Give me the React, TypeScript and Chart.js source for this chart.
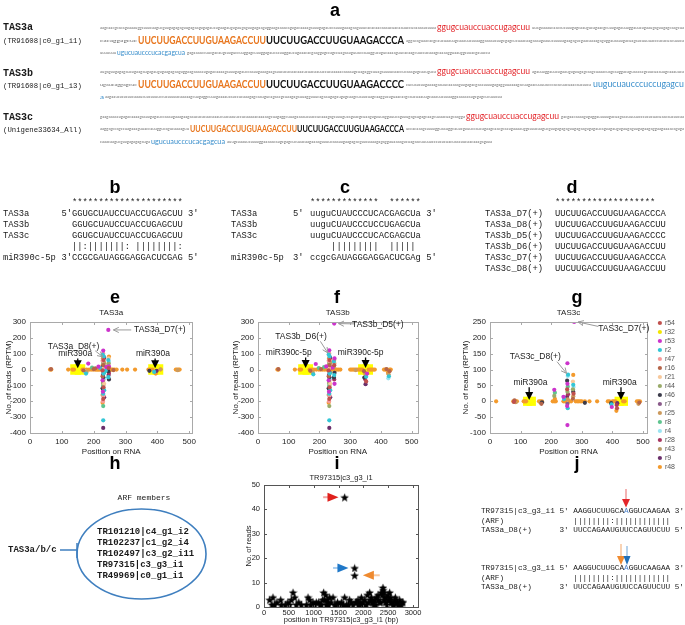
import React, { useEffect, useRef } from 'react';
import { Chart, registerables } from 'chart.js';
Chart.register(...registerables);

const SANS = "'Liberation Sans', Arial, Helvetica, sans-serif";
const MONO = "'Liberation Mono', 'Courier New', monospace";
const SEQF = "Lato, 'Open Sans', 'Liberation Sans', sans-serif";

// ---------- series (legend of panel g) ----------
const SERIES = ['r54', 'r32', 'r53', 'r2', 'r47', 'r16', 'r21', 'r44', 'r46', 'r7', 'r25', 'r8', 'r4', 'r28', 'r43', 'r9', 'r48'];
const SERIES_COLORS = ['#c0504d', '#f2e600', '#cc33cc', '#33c6d6', '#f59a9a', '#b5654a', '#f7c89b', '#9aab6a', '#3b3b4a', '#8a5a8a', '#cc9a5c', '#5fc48f', '#9be4f2', '#a8365f', '#b89c6a', '#6b2f6b', '#f39a2c'];

// ---------- panel e : TAS3a ----------
const E_X_TICKS = [0, 100, 200, 300, 400, 500];
const E_Y_TICKS = [-400, -300, -200, -100, 0, 100, 200, 300];
const E_BASE_X = [63, 67, 120, 133, 138, 165, 170, 178, 186, 192, 198, 204, 208, 212, 216, 220, 224, 228, 234, 236, 240, 244, 252, 256, 260, 265, 272, 290, 305, 330, 372, 378, 385, 410, 458, 462, 466, 470];
const E_MIR_X = [143, 157, 388, 402];
const E_POINTS: [number, number, string][] = [
  [66, 3, 'r16'], [200, 3, 'r16'], [262, -3, 'r16'], [464, -4, 'r25'], [410, 2, 'r25'],
  [183, 38, 'r53'], [176, -25, 'r2'], [178, -14, 'r25'], [195, 12, 'r8'], [205, 8, 'r16'], [215, 18, 'r53'], [220, 10, 'r2'], [168, -6, 'r16'], [172, -12, 'r4'],
  [230, 120, 'r53'], [230, 100, 'r47'], [232, 82, 'r2'], [229, 70, 'r25'], [231, 60, 'r54'], [230, 48, 'r8'], [230, 38, 'r44'], [231, 28, 'r16'], [229, 18, 'r46'], [230, 8, 'r21'],
  [230, -15, 'r7'], [231, -25, 'r2'], [229, -35, 'r9'], [230, -48, 'r46'], [231, -60, 'r43'], [230, -72, 'r25'], [229, -85, 'r44'], [230, -100, 'r8'], [231, -112, 'r54'], [230, -125, 'r28'],
  [229, -140, 'r53'], [230, -152, 'r2'], [231, -165, 'r47'], [230, -185, 'r54'], [229, -200, 'r47'], [230, -230, 'r8'], [230, -320, 'r2'], [230, -368, 'r9'],
  [228, 95, 'r2'], [233, 75, 'r9'], [228, 55, 'r47'], [233, 42, 'r25'], [228, 25, 'r48'], [233, 12, 'r28'], [228, -5, 'r54'], [233, -20, 'r8'], [228, -42, 'r16'], [233, -55, 'r4'],
  [228, -68, 'r53'], [233, -90, 'r21'], [228, -118, 'r46'], [233, -130, 'r2'], [228, -160, 'r25'], [233, -175, 'r9'], [228, -210, 'r48'],
  [246, 250, 'r53'],
  [248, 82, 'r48'], [247, 70, 'r21'], [246, 60, 'r2'], [248, 50, 'r4'], [247, 40, 'r44'], [246, 30, 'r25'], [248, 20, 'r53'], [247, 10, 'r54'], [246, -10, 'r46'], [248, -22, 'r28'], [247, -35, 'r9'], [246, -48, 'r2'], [248, -62, 'r46'],
  [240, 15, 'r53'], [238, -8, 'r2'],
  [375, -8, 'r46'], [390, -15, 'r2'], [395, -25, 'r48'], [398, -8, 'r9'],
];

// ---------- panel f : TAS3b ----------
const F_BASE_X = [63, 67, 120, 135, 140, 168, 175, 182, 190, 198, 204, 210, 216, 222, 226, 236, 238, 242, 252, 256, 262, 268, 300, 305, 310, 315, 320, 325, 330, 335, 340, 360, 365, 370, 375, 380, 410, 415, 420, 428, 432];
const F_MIR_X = [148, 162, 343, 357];
const F_POINTS: [number, number, string][] = [
  [66, 3, 'r16'], [205, 3, 'r16'], [318, -3, 'r25'], [418, 3, 'r16'],
  [180, -30, 'r2'], [178, -18, 'r25'], [188, 35, 'r53'], [198, 10, 'r8'], [215, 15, 'r8'], [222, 20, 'r53'], [170, -8, 'r16'],
  [232, 122, 'r53'], [232, 100, 'r47'], [233, 82, 'r2'], [231, 70, 'r25'], [233, 60, 'r54'], [232, 48, 'r8'], [232, 38, 'r44'], [233, 28, 'r16'], [231, 18, 'r46'], [232, 8, 'r21'],
  [232, -15, 'r7'], [233, -25, 'r2'], [231, -35, 'r9'], [232, -48, 'r46'], [233, -60, 'r43'], [232, -72, 'r25'], [231, -85, 'r44'], [232, -100, 'r8'], [233, -112, 'r54'], [232, -125, 'r28'],
  [231, -140, 'r53'], [232, -152, 'r2'], [233, -165, 'r47'], [232, -185, 'r54'], [231, -200, 'r47'], [232, -230, 'r44'], [232, -320, 'r2'], [232, -368, 'r9'],
  [230, 95, 'r2'], [235, 75, 'r9'], [230, 55, 'r47'], [235, 42, 'r25'], [230, 25, 'r48'], [235, 12, 'r28'], [230, -5, 'r54'], [235, -20, 'r8'], [230, -42, 'r16'], [235, -55, 'r4'],
  [230, -68, 'r53'], [235, -90, 'r21'], [230, -118, 'r46'], [235, -130, 'r2'], [230, -160, 'r25'], [235, -175, 'r9'], [230, -210, 'r48'],
  [248, 290, 'r53'],
  [249, 70, 'r53'], [248, 60, 'r48'], [247, 50, 'r2'], [249, 40, 'r21'], [248, 28, 'r54'], [247, 18, 'r44'], [249, -20, 'r46'], [248, -35, 'r2'], [247, -50, 'r46'], [249, -90, 'r53'], [248, -62, 'r28'],
  [243, 12, 'r53'],
  [345, -10, 'r16'], [348, -20, 'r25'], [350, -35, 'r48'], [352, -45, 'r2'], [348, -60, 'r28'], [350, -92, 'r9'], [346, -50, 'r46'], [355, -25, 'r53'], [352, -75, 'r54'],
  [423, -20, 'r48'], [425, -30, 'r25'], [426, -42, 'r2'], [424, -55, 'r4'], [428, -10, 'r16'],
];

// ---------- panel g : TAS3c ----------
const G_X_TICKS = [0, 100, 200, 300, 400, 500];
const G_Y_TICKS = [-100, -50, 0, 50, 100, 150, 200, 250];
const G_BASE_X = [20, 76, 80, 84, 88, 110, 114, 118, 160, 165, 170, 205, 210, 215, 240, 245, 260, 265, 280, 285, 290, 295, 300, 310, 325, 350, 385, 390, 400, 405, 410, 435, 440, 480, 485, 490];
const G_MIR_X = [123, 135, 422, 436];
const G_POINTS: [number, number, string][] = [
  [80, 3, 'r16'], [84, -3, 'r25'], [78, -2, 'r54'], [165, -4, 'r25'], [168, -8, 'r16'], [170, -3, 'r46'],
  [210, 36, 'r53'], [212, 27, 'r8'], [210, 17, 'r44'], [212, 8, 'r48'], [240, 14, 'r53'], [242, 7, 'r2'],
  [253, 120, 'r53'], [255, 84, 'r2'], [254, 80, 'r4'], [252, 65, 'r46'], [253, 55, 'r53'], [254, 46, 'r8'], [252, 38, 'r54'], [253, 30, 'r44'], [255, 22, 'r28'], [252, 14, 'r9'], [254, 6, 'r25'],
  [253, -8, 'r7'], [252, -15, 'r53'], [254, -22, 'r2'], [253, -75, 'r53'],
  [272, 83, 'r48'], [271, 62, 'r21'], [272, 52, 'r2'], [273, 45, 'r4'], [271, 38, 'r44'], [272, 30, 'r46'], [273, 24, 'r54'], [272, 16, 'r25'], [271, 8, 'r16'],
  [275, 250, 'r53'],
  [310, -5, 'r46'],
  [397, -10, 'r2'], [398, -18, 'r53'], [396, -6, 'r46'],
  [413, -30, 'r48'], [415, -22, 'r54'], [414, -12, 'r28'], [416, -6, 'r9'],
  [485, -8, 'r25'], [488, -4, 'r16'],
];

// ---------- panel i : TR97315|c3_g3_i1 ----------
const I_X_TICKS = [0, 500, 1000, 1500, 2000, 2500, 3000];
const I_Y_TICKS = [0, 10, 20, 30, 40, 50];
const I_X = [114, 181, 215, 336, 349, 517, 550, 584, 617, 752, 852, 886, 919, 939, 986, 1020, 1053, 1154, 1201, 1221, 1241, 1255, 1288, 1322, 1389, 1423, 1523, 1557, 1624, 1624, 1657, 1724, 1758, 1792, 1825, 1825, 1859, 1892, 1926, 1959, 1993, 2026, 2060, 2080, 2127, 2161, 2174, 2208, 2228, 2261, 2295, 2328, 2362, 2395, 2416, 2429, 2449, 2476, 2496, 2510, 2530, 2550, 2577, 2597, 2630, 2644, 2684, 2697, 2731, 2765, 2798,
  1100, 1130, 1180, 1270, 1300, 1350, 1450, 1480, 1600, 1700, 1850, 1900, 1950, 2000, 2100, 2150, 2200, 2250, 2300, 2350, 2380, 2400, 2420, 2460, 2520, 2560, 2610, 2660, 2720, 2780, 700, 650, 430, 480, 160, 260];
const I_Y = [3, 4, 1, 3, 1, 1, 3, 6, 4, 1, 1, 4, 3, 1, 2, 1, 2, 1, 6, 3, 5, 1, 2, 4, 4, 1, 1, 2, 45, 4, 1, 3, 2, 1, 16, 13, 2, 3, 1, 4, 2, 3, 1, 5, 6, 4, 2, 1, 3, 4, 5, 2, 6, 8, 6, 4, 2, 1, 5, 3, 6, 4, 2, 1, 3, 4, 2, 1, 3, 1, 2,
  2, 1, 3, 3, 1, 2, 1, 2, 1, 1, 2, 1, 2, 1, 2, 3, 2, 1, 3, 2, 5, 7, 3, 4, 3, 2, 1, 2, 1, 2, 2, 1, 1, 2, 1, 2];

// ---------- annotations (data coordinates) ----------
const E_NOTES = {
  texts: [{ x: 142, y: 100, t: 'miR390a' }, { x: 386, y: 100, t: 'miR390a' }, { x: 137, y: 145, t: 'TAS3a_D8(+)' }, { x: 408, y: 250, t: 'TAS3a_D7(+)' }],
  pointers: [{ x: 150, y1: 70, y2: 8 }, { x: 393, y1: 70, y2: 8 }],
  grey: [{ x1: 318, y1: 250, x2: 262, y2: 250 }, { x1: 205, y1: 118, x2: 229, y2: 80 }],
};
const F_NOTES = {
  texts: [{ x: 100, y: 108, t: 'miR390c-5p' }, { x: 334, y: 108, t: 'miR390c-5p' }, { x: 140, y: 210, t: 'TAS3b_D6(+)' }, { x: 390, y: 285, t: 'TAS3b_D5(+)' }],
  pointers: [{ x: 155, y1: 76, y2: 10 }, { x: 350, y1: 76, y2: 10 }],
  grey: [{ x1: 316, y1: 288, x2: 262, y2: 290 }, { x1: 203, y1: 178, x2: 227, y2: 105 }],
};
const G_NOTES = {
  texts: [{ x: 132, y: 60, t: 'miR390a' }, { x: 424, y: 60, t: 'miR390a' }, { x: 148, y: 140, t: 'TAS3c_D8(+)' }, { x: 437, y: 229, t: 'TAS3c_D7(+)' }],
  pointers: [{ x: 128, y1: 44, y2: 4 }, { x: 428, y1: 44, y2: 4 }],
  grey: [{ x1: 354, y1: 236, x2: 288, y2: 250 }, { x1: 219, y1: 125, x2: 250, y2: 88 }],
};
const I_NOTES = {
  big: [
    { x1: 1190, x2: 1500, y: 45, head: '#e0201c', tail: '#f3a6a4' },
    { x1: 1390, x2: 1700, y: 16, head: '#1f78c8', tail: '#a8cdef' },
    { x1: 2330, x2: 1990, y: 13, head: '#ef8a2f', tail: '#f8c9a0' },
  ],
};

// ---------- plugins ----------
function makeFrame(color: string, tl: number) {
  return {
    id: 'frame',
    afterDatasetsDraw(chart: any) {
      const { ctx, chartArea: a, scales } = chart;
      ctx.save();
      ctx.strokeStyle = color;
      ctx.lineWidth = 1;
      const L = Math.round(a.left) + 0.5, R = Math.round(a.right) + 0.5, T = Math.round(a.top) + 0.5, B = Math.round(a.bottom) + 0.5;
      ctx.strokeRect(L, T, R - L, B - T);
      ctx.beginPath();
      scales.x.ticks.forEach((t: any) => {
        const p = Math.round(scales.x.getPixelForValue(t.value)) + 0.5;
        ctx.moveTo(p, B); ctx.lineTo(p, B - tl); ctx.moveTo(p, T); ctx.lineTo(p, T + tl);
      });
      scales.y.ticks.forEach((t: any) => {
        const p = Math.round(scales.y.getPixelForValue(t.value)) + 0.5;
        ctx.moveTo(L, p); ctx.lineTo(L + tl, p); ctx.moveTo(R, p); ctx.lineTo(R - tl, p);
      });
      ctx.stroke();
      ctx.restore();
    },
  };
}

function makeNotes(notes: any) {
  return {
    id: 'notes',
    afterDatasetsDraw(chart: any) {
      const { ctx, scales } = chart;
      const X = (v: number) => scales.x.getPixelForValue(v);
      const Y = (v: number) => scales.y.getPixelForValue(v);
      ctx.save();
      (notes.grey || []).forEach((g: any) => {
        const x1 = X(g.x1), y1 = Y(g.y1), x2 = X(g.x2), y2 = Y(g.y2);
        const ang = Math.atan2(y2 - y1, x2 - x1);
        ctx.strokeStyle = '#9a9a9a';
        ctx.lineWidth = 1;
        ctx.beginPath();
        ctx.moveTo(x1, y1); ctx.lineTo(x2, y2);
        ctx.moveTo(x2 - 6 * Math.cos(ang - 0.45), y2 - 6 * Math.sin(ang - 0.45));
        ctx.lineTo(x2, y2);
        ctx.lineTo(x2 - 6 * Math.cos(ang + 0.45), y2 - 6 * Math.sin(ang + 0.45));
        ctx.stroke();
      });
      (notes.pointers || []).forEach((p: any) => {
        const x = X(p.x), y1 = Y(p.y1), y2 = Y(p.y2);
        ctx.strokeStyle = '#000';
        ctx.lineWidth = 1.3;
        ctx.beginPath(); ctx.moveTo(x, y1); ctx.lineTo(x, y2 - 6); ctx.stroke();
        ctx.fillStyle = '#000';
        ctx.beginPath(); ctx.moveTo(x - 4, y2 - 8); ctx.lineTo(x + 4, y2 - 8); ctx.lineTo(x, y2); ctx.closePath(); ctx.fill();
      });
      (notes.big || []).forEach((b: any) => {
        const x1 = X(b.x1), x2 = X(b.x2), y = Y(b.y);
        const dir = x2 > x1 ? 1 : -1;
        ctx.strokeStyle = b.tail;
        ctx.lineWidth = 2;
        ctx.beginPath(); ctx.moveTo(x1, y); ctx.lineTo(x2 - dir * 8, y); ctx.stroke();
        ctx.fillStyle = b.head;
        ctx.beginPath(); ctx.moveTo(x2 - dir * 11, y - 4.5); ctx.lineTo(x2, y); ctx.lineTo(x2 - dir * 11, y + 4.5); ctx.closePath(); ctx.fill();
      });
      ctx.fillStyle = '#1a1a1a';
      ctx.font = `8.5px ${SANS}`;
      ctx.textAlign = 'center';
      ctx.textBaseline = 'middle';
      (notes.texts || []).forEach((t: any) => ctx.fillText(t.t, X(t.x), Y(t.y)));
      ctx.restore();
    },
  };
}

// ---------- builders ----------
function seriesDatasets(points: [number, number, string][], baseX: number[], mirX: number[], mirR: number) {
  const ds: any[] = SERIES.map((name, i) => {
    const data: any[] = [];
    points.forEach(([x, y, s]) => { if (s === name) data.push({ x, y }); });
    if (name === 'r48') baseX.forEach((x) => data.push({ x, y: 0 }));
    return { label: name, data, backgroundColor: SERIES_COLORS[i], borderColor: SERIES_COLORS[i], borderWidth: 0, pointRadius: 2.1, pointStyle: 'circle', order: 1 };
  });
  ds.push({ label: 'miR390 site', data: mirX.map((x) => ({ x, y: 0 })), backgroundColor: '#ffff00', borderWidth: 0, pointStyle: 'rect', pointRadius: mirR, order: 10 });
  return ds;
}

function buildScatter(s: any) {
  const fs = s.fontSize;
  const lh = fs * 1.2;
  const b = s.box;
  const W = b.cr - b.cl;
  const padT = s.legend ? 2 : 0;
  const padB = s.legend ? 2 : 0;
  const padR = s.legend ? 0 : b.cr - b.PR;
  const titlePadTop = b.titleY - (b.ct + padT) - lh / 2;
  const titlePadBottom = (b.PT - b.ct - padT) - lh - titlePadTop;
  const xH = (b.cb - padB) - b.PB;
  const xTitlePadBottom = (b.cb - padB) - b.xTitleY - lh / 2;
  const yW = b.PL - b.cl;
  const yTitlePadTop = b.yTitleX - b.cl - lh / 2;
  const font = { family: SANS, size: fs, weight: 'normal' };
  const scales: any = {
    x: {
      type: 'linear', min: s.xMin, max: s.xMax,
      afterBuildTicks: (sc: any) => { sc.ticks = s.xTicks.map((v: number) => ({ value: v })); },
      ticks: { autoSkip: false, maxRotation: 0, padding: s.xTickPad, font, color: '#222', callback: (v: any) => String(v) },
      grid: { display: false, drawTicks: false }, border: { display: false },
      title: { display: true, text: s.xTitle, font, color: '#222', padding: { top: 0, bottom: xTitlePadBottom } },
      afterFit: (sc: any) => { sc.height = xH; },
    },
    y: {
      type: 'linear', min: s.yMin, max: s.yMax,
      afterBuildTicks: (sc: any) => { sc.ticks = s.yTicks.map((v: number) => ({ value: v })); },
      ticks: { autoSkip: false, padding: 4, font, color: '#222', callback: (v: any) => String(v) },
      grid: { display: false, drawTicks: false }, border: { display: false },
      title: { display: true, text: s.yTitle, font, color: '#222', padding: { top: yTitlePadTop, bottom: 0 } },
      afterFit: (sc: any) => { sc.width = yW; },
    },
  };
  if (s.legend) {
    scales.gap = {
      type: 'linear', position: 'right', display: true,
      grid: { display: false, drawTicks: false }, border: { display: false }, ticks: { display: false },
      afterFit: (sc: any) => {
        const lg = sc.chart.legend;
        sc.width = Math.max(0, (W - padR - (lg ? lg.width : 0)) - (b.PR - b.cl));
      },
    };
  }
  return {
    type: 'scatter',
    data: { datasets: s.datasets },
    options: {
      responsive: false, animation: false, devicePixelRatio: 1, events: [],
      layout: { padding: { left: 0, top: padT, right: padR, bottom: padB } },
      scales,
      plugins: {
        legend: s.legend ? {
          display: true, position: 'right', align: 'center',
          labels: {
            font: { family: SANS, size: 7 }, color: '#555', usePointStyle: true, boxWidth: 3, boxHeight: 3, padding: 2,
            filter: (item: any) => SERIES.includes(item.text),
          },
        } : { display: false },
        title: { display: true, text: s.title, fullSize: false, font, color: '#222', padding: { top: titlePadTop, bottom: titlePadBottom } },
        tooltip: { enabled: false },
      },
    },
    plugins: [makeFrame(s.frameColor, 2.5), makeNotes(s.notes)],
  };
}

function starCanvas(size: number, color: string) {
  const c = document.createElement('canvas');
  c.width = size; c.height = size;
  const g = c.getContext('2d') as CanvasRenderingContext2D;
  g.fillStyle = color;
  g.beginPath();
  const cx = size / 2, cy = size / 2 + 0.6, R = size / 2, r = R * 0.42;
  for (let k = 0; k < 10; k++) {
    const ang = -Math.PI / 2 + (k * Math.PI) / 5;
    const rad = k % 2 === 0 ? R : r;
    const px = cx + rad * Math.cos(ang), py = cy + rad * Math.sin(ang);
    if (k === 0) g.moveTo(px, py); else g.lineTo(px, py);
  }
  g.closePath();
  g.fill();
  return c;
}

const E_BOX = { cl: 0, ct: 305, cr: 200, cb: 458, PL: 30, PT: 322, PR: 193, PB: 433, titleY: 313, xTitleY: 452, yTitleX: 9 };
const F_BOX = { cl: 225, ct: 305, cr: 425, cb: 458, PL: 258, PT: 322, PR: 418, PB: 433, titleY: 313, xTitleY: 452, yTitleX: 236 };
const G_BOX = { cl: 455, ct: 305, cr: 685, cb: 485, PL: 490, PT: 322, PR: 647, PB: 433, titleY: 313, xTitleY: 452, yTitleX: 466 };
const I_BOX = { cl: 230, ct: 471, cr: 425, cb: 625, PL: 264, PT: 485, PR: 418, PB: 607, titleY: 478, xTitleY: 620, yTitleX: 249 };

const makeE = () => buildScatter({
  box: E_BOX, fontSize: 8, xMin: 0, xMax: 510, xTicks: E_X_TICKS, yMin: -400, yMax: 300, yTicks: E_Y_TICKS, xTickPad: 4,
  title: 'TAS3a', xTitle: 'Position on RNA', yTitle: 'No. of reads (RPTM)', frameColor: '#a9a9a9', notes: E_NOTES,
  datasets: seriesDatasets(E_POINTS, E_BASE_X, E_MIR_X, 7.5),
});
const makeF = () => buildScatter({
  box: F_BOX, fontSize: 8, xMin: 0, xMax: 519, xTicks: E_X_TICKS, yMin: -400, yMax: 300, yTicks: E_Y_TICKS, xTickPad: 4,
  title: 'TAS3b', xTitle: 'Position on RNA', yTitle: 'No. of reads (RPTM)', frameColor: '#a9a9a9', notes: F_NOTES,
  datasets: seriesDatasets(F_POINTS, F_BASE_X, F_MIR_X, 7.5),
});
const makeG = () => buildScatter({
  box: G_BOX, fontSize: 8, xMin: 0, xMax: 513, xTicks: G_X_TICKS, yMin: -100, yMax: 250, yTicks: G_Y_TICKS, xTickPad: 4,
  title: 'TAS3c', xTitle: 'Position on RNA', yTitle: 'No. of reads (RPTM)', frameColor: '#a9a9a9', notes: G_NOTES, legend: true,
  datasets: seriesDatasets(G_POINTS, G_BASE_X, G_MIR_X, 6.5),
});
const makeI = () => buildScatter({
  box: I_BOX, fontSize: 7.5, xMin: 0, xMax: 3100, xTicks: I_X_TICKS, yMin: 0, yMax: 50, yTicks: I_Y_TICKS, xTickPad: 1,
  title: 'TR97315|c3_g3_i1', xTitle: 'position in TR97315|c3_g3_i1 (bp)', yTitle: 'No. of reads', frameColor: '#555', notes: I_NOTES,
  datasets: [{ label: 'reads', data: I_X.map((x, k) => ({ x, y: I_Y[k] })), pointStyle: starCanvas(9, '#000'), pointRadius: 4.5, backgroundColor: '#000' }],
});

function ChartBox({ box, make }: any) {
  const ref = useRef<HTMLCanvasElement>(null);
  useEffect(() => {
    const chart = new Chart(ref.current as HTMLCanvasElement, make());
    return () => chart.destroy();
  }, []);
  const w = box.cr - box.cl, h = box.cb - box.ct;
  return <canvas ref={ref} width={w} height={h} style={{ position: 'absolute', left: box.cl, top: box.ct, width: w, height: h }} />;
}

// ---------- text helpers (svg) ----------
const NT = 'aagcaacgcacagaaaauggcaaacaagucgaagagagagaugagaagagagaucagaagaugagaugagaagagaagaggaagaaaacagagacaaaagaaaagagauccaaaagaaagaagaaucacacaacaaaucuacaauuccucaaaaacaaaaagcuagaggcuuagaaaaucaaccucaaagagcaaugucagaacgcuaagagauuaggauucagaaugagaugagcaagcuaaacuagcaaggacaguaacacgcaucuaauugcaaauucaaaaggaaaaacaagcgagcucuaacaagaaaagaauucaaaaagaagagacgaacaaaagagaggauaaaagacuagaacuuuuacccacacuacuaacaucaacaaagagaaaaccuucgacaugcaaguccuuggagcuaaggagaucacauggaucugaaacacgaaggagccagccuagaaaguuaccauuggucagucaaaaguucacaagcuuccacaaagcaaaagguaauggcauacgauuccaucag';
function nt(offset: number, n: number) {
  let s = '';
  while (s.length < offset + n) s += NT;
  return s.slice(offset, offset + n);
}
let keyN = 0;
function seg(x1: number, x2: number, y: number, t: string, size: number, fill: string, bold = false) {
  return <text key={'s' + keyN++} x={x1} y={y} fontSize={size} fill={fill} fontWeight={bold ? 'bold' : 'normal'} fontFamily={SEQF} dominantBaseline="central" textLength={x2 - x1} lengthAdjust="spacingAndGlyphs">{t}</text>;
}
function tiny(x1: number, x2: number, y: number, o: number) {
  return seg(x1, x2, y, nt(o, Math.max(1, Math.round((x2 - x1) / 2.1))), 4.2, '#6e6e6e');
}
function mono(x: number, y: number, t: any, size: number, bold = false, anchor = 'start', fill = '#1a1a1a') {
  return <text key={'m' + keyN++} x={x} y={y} fontSize={size} fill={fill} fontWeight={bold ? 'bold' : 'normal'} fontFamily={MONO} dominantBaseline="central" textAnchor={anchor} xmlSpace="preserve" style={{ whiteSpace: 'pre' }}>{t}</text>;
}
function letter(x: number, y: number, t: string) {
  return <text key={'l' + keyN++} x={x} y={y} fontSize={18} fontWeight="bold" fontFamily={SANS} textAnchor="middle" dominantBaseline="central" fill="#000">{t}</text>;
}

const ORANGE = '#e8761e', RED = '#e3262b', BLUE = '#3a8fcc', BLK = '#111';
const SEQ_ORANGE = 'UUCUUGACCUUGUAAGACCUU';
const SEQ_BLACK_A = 'UUCUUGACCUUGUAAGACCCA';
const SEQ_BLACK_B = 'UUCUUGACCUUGUAAGACCCC';
const SEQ_RED = 'ggugcuauccuaccugagcuu';
const SEQ_BLUE_A = 'ugucuaucccucacgagcua';
const SEQ_BLUE_B = 'uugucuaucccuccugagcu';

const D_LABELS = ['TAS3a_D7(+)', 'TAS3a_D8(+)', 'TAS3b_D5(+)', 'TAS3b_D6(+)', 'TAS3c_D7(+)', 'TAS3c_D8(+)'];
const D_SEQS = ['UUCUUGACCUUGUAAGACCCA', 'UUCUUGACCUUGUAAGACCUU', 'UUCUUGACCUUGUAAGACCCC', 'UUCUUGACCUUGUAAGACCUU', 'UUCUUGACCUUGUAAGACCCA', 'UUCUUGACCUUGUAAGACCUU'];
const ARF_MEMBERS = ['TR101210|c4_g1_i2', 'TR102237|c1_g2_i4', 'TR102497|c3_g2_i11', 'TR97315|c3_g3_i1', 'TR49969|c0_g1_i1'];

function Overlay() {
  keyN = 0;
  const els: any[] = [];
  // panel letters
  els.push(letter(335, 10, 'a'), letter(115, 187, 'b'), letter(345, 187, 'c'), letter(572, 187, 'd'),
    letter(115, 297, 'e'), letter(337, 297, 'f'), letter(577, 297, 'g'),
    letter(115, 463, 'h'), letter(337, 463, 'i'), letter(577, 463, 'j'));

  // ---- panel a ----
  els.push(mono(3, 27, 'TAS3a', 10, true), mono(3, 41, '(TR91608|c0_g1_i1)', 7.3));
  els.push(mono(3, 73, 'TAS3b', 10, true), mono(3, 86, '(TR91608|c0_g1_i3)', 7.3));
  els.push(mono(3, 117, 'TAS3c', 10, true), mono(3, 130, '(Unigene33634_All)', 7.3));
  // TAS3a rows
  els.push(tiny(100, 436, 27, 0), seg(437, 530, 27, SEQ_RED, 8.5, RED), tiny(532, 684, 27, 170));
  els.push(seg(100, 137, 40, 'cacaggagcuc', 4.2, '#6e6e6e'), seg(138, 266, 40, SEQ_ORANGE, 10.5, ORANGE, true), seg(266, 404, 40, SEQ_BLACK_A, 10.5, BLK, true), tiny(406, 684, 40, 250));
  els.push(seg(100, 116, 52, 'uuuuuuu', 4.2, '#6e6e6e'), seg(117, 185, 52, SEQ_BLUE_A, 7, BLUE), tiny(187, 490, 52, 390));
  // TAS3b rows
  els.push(tiny(100, 436, 71, 40), seg(437, 530, 71, SEQ_RED, 8.5, RED), tiny(532, 684, 71, 210));
  els.push(seg(100, 137, 84, 'ugaucaggagcuc', 4.2, '#6e6e6e'), seg(138, 266, 84, SEQ_ORANGE, 10.5, ORANGE, true), seg(266, 404, 84, SEQ_BLACK_B, 10.5, BLK, true), tiny(406, 591, 84, 300), seg(593, 684, 84, SEQ_BLUE_B, 8.5, BLUE));
  els.push(seg(100, 104, 96, 'a', 6, BLUE), tiny(105, 502, 96, 120));
  // TAS3c rows
  els.push(tiny(100, 465, 116, 80), seg(466, 559, 116, SEQ_RED, 8.5, RED), tiny(561, 684, 116, 330));
  els.push(tiny(100, 189, 128, 450), seg(190, 297, 128, SEQ_ORANGE, 9.5, ORANGE, true), seg(297, 404, 128, SEQ_BLACK_A, 9.5, BLK, true), tiny(406, 684, 128, 500));
  els.push(tiny(100, 150, 141, 20), seg(151, 225, 141, SEQ_BLUE_A, 7.5, BLUE), tiny(227, 492, 141, 270));

  // ---- panel b ----
  const BS = 8.8;
  const rY = [214, 225, 236, 247, 258];
  els.push(mono(72, 203, '*********************', BS));
  els.push(mono(3, rY[0], 'TAS3a', BS), mono(61.4, rY[0], "5'GGUGCUAUCCUACCUGAGCUU 3'", BS));
  els.push(mono(3, rY[1], 'TAS3b', BS), mono(72, rY[1], 'GGUGCUAUCCUACCUGAGCUU', BS));
  els.push(mono(3, rY[2], 'TAS3c', BS), mono(72, rY[2], 'GGUGCUAUCCUACCUGAGCUU', BS));
  els.push(mono(72, rY[3], '||:|||||||: ||||||||:', BS));
  els.push(mono(3, rY[4], 'miR390c-5p', BS), mono(61.4, rY[4], "3'CCGCGAUAGGGAGGACUCGAG 5'", BS));

  // ---- panel c ----
  els.push(mono(310, 203, '*************  ******', BS));
  els.push(mono(231, rY[0], 'TAS3a', BS), mono(293, rY[0], "5'", BS), mono(310, rY[0], "uuguCUAUCCCUCACGAGCUa 3'", BS));
  els.push(mono(231, rY[1], 'TAS3b', BS), mono(310, rY[1], 'uuguCUAUCCCUCCUGAGCUa', BS));
  els.push(mono(231, rY[2], 'TAS3c', BS), mono(310, rY[2], 'uuguCUAUCCCUCACGAGCUa', BS));
  els.push(mono(310, rY[3], '    |||||||||  |||||', BS));
  els.push(mono(231, rY[4], 'miR390c-5p', BS), mono(293, rY[4], "3'", BS), mono(310, rY[4], "ccgcGAUAGGGAGGACUCGAg 5'", BS));

  // ---- panel d ----
  els.push(mono(555, 203, '*******************', BS));
  const dY = [214, 225, 236, 247, 258, 269];
  D_LABELS.forEach((l, k) => { els.push(mono(485, dY[k], l, BS), mono(555, dY[k], D_SEQS[k], BS)); });

  // ---- panel h ----
  els.push(mono(144, 497, 'ARF members', 8, false, 'middle'));
  els.push(<ellipse key="ell" cx={141.5} cy={554} rx={64.5} ry={45} fill="none" stroke="#3f7fbf" strokeWidth={1.6} />);
  const hY = [532, 543, 554, 565, 576];
  ARF_MEMBERS.forEach((m, k) => els.push(mono(97, hY[k], m, 9, true)));
  els.push(mono(8, 550, 'TAS3a/b/c', 9, true));
  els.push(<line key="hl1" x1={60} y1={550} x2={77} y2={550} stroke="#3f7fbf" strokeWidth={1.5} />);
  els.push(<line key="hl2" x1={77} y1={543} x2={77} y2={558} stroke="#3f7fbf" strokeWidth={1.5} />);

  // ---- panel j ----
  const JS = 7.7;
  const jRows = (y0: number) => {
    els.push(mono(481, y0, <>{"TR97315|c3_g3_i1 5' AAGGUCUUGCA"}<tspan fill="#4a7fc8">A</tspan>{"GGUCAAGAA 3'"}</>, JS));
    els.push(mono(481, y0 + 9.5, '(ARF)               ||||||||:||||||||||||', JS));
    els.push(mono(481, y0 + 19, "TAS3a_D8(+)      3' UUCCAGAAUGUUCCAGUUCUU 5'", JS));
  };
  jRows(511);
  jRows(568);
  els.push(<line key="ja1" x1={626} y1={489} x2={626} y2={500} stroke="#f19a9a" strokeWidth={1.5} />);
  els.push(<polygon key="ja2" points="622,499 630,499 626,507.5" fill="#e3262b" />);
  els.push(<line key="jb1" x1={621} y1={544} x2={621} y2={557} stroke="#f6c59c" strokeWidth={1.5} />);
  els.push(<polygon key="jb2" points="617,556 625,556 621,565" fill="#ef8a2f" />);
  els.push(<line key="jc1" x1={627} y1={546} x2={627} y2={557} stroke="#9cc3e6" strokeWidth={1.5} />);
  els.push(<polygon key="jc2" points="623.5,556 630.5,556 627,565" fill="#1f6fb8" />);

  return <svg width={685} height={625} style={{ position: 'absolute', left: 0, top: 0, pointerEvents: 'none' }}>{els}</svg>;
}

export default function App() {
  return (
    <div style={{ position: 'absolute', left: 0, top: 0, width: 685, height: 625, background: '#fff', overflow: 'hidden', fontFamily: SANS }}>
      <ChartBox box={E_BOX} make={makeE} />
      <ChartBox box={F_BOX} make={makeF} />
      <ChartBox box={G_BOX} make={makeG} />
      <ChartBox box={I_BOX} make={makeI} />
      <Overlay />
    </div>
  );
}
